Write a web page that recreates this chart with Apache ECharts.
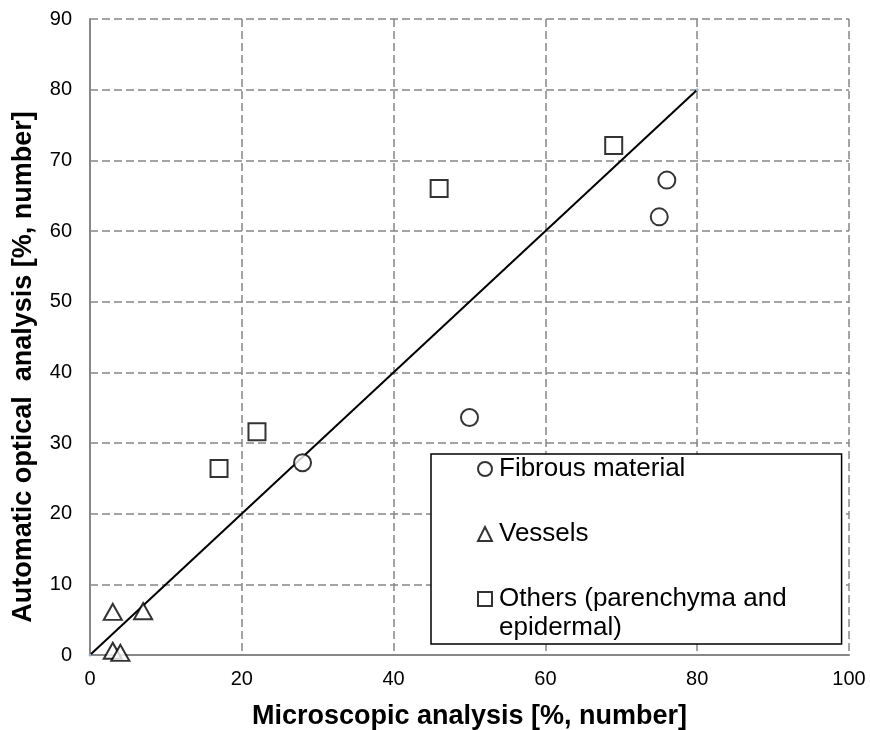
<!DOCTYPE html>
<html>
<head>
<meta charset="utf-8">
<script src="https://cdn.jsdelivr.net/npm/echarts@6/dist/echarts.min.js"></script>
<style>
  html, body { margin: 0; padding: 0; background: #fff; }
  #chart { width: 870px; height: 730px; }
</style>
</head>
<body>
<div id="chart"></div>
<script>
// data: [microscopic, automatic optical]
const fibrous = [[28, 27.2], [50, 33.6], [75, 62.0], [76, 67.2]]
const vessels = [[3, 6.1], [7, 6.2], [3, 0.6], [4, 0.3]]
const others = [[17, 26.4], [22, 31.6], [46, 66.0], [69, 72.1]]
const refLine = [[0, 0], [80, 80]]
const seriesNames = ['Fibrous material', 'Vessels', 'Others (parenchyma and']
// second line of the last legend entry (Excel wraps it under the text)
const legendWrap = 'epidermal)'

const chart = echarts.init(document.getElementById('chart'))
const font = 'Liberation Sans, Arial, sans-serif'
const markerStyle = {
  color: '#fff',
  borderColor: '#000',
  borderWidth: 2
}
const gridLine = { color: '#878787', type: [8, 4], width: 1.5 }

const option = {
  backgroundColor: '#fff',
  animation: false,
  grid: {
    left: 90,
    right: 21,
    top: 19,
    bottom: 75,
    outerBoundsMode: 'none'
  },
  legend: {
    orient: 'vertical',
    left: 431,
    top: 454,
    data: seriesNames,
    backgroundColor: '#fff',
    borderColor: '#000',
    borderWidth: 1.5,
    borderRadius: 0,
    padding: [0, 55, 30, 46],
    itemGap: 35,
    itemWidth: 14,
    itemHeight: 14,
    textStyle: {
      fontFamily: font,
      fontSize: 26,
      lineHeight: 30,
      color: '#000',
      padding: [0, 0, 0, 2]
    }
  },
  graphic: [
    {
      type: 'text',
      left: 499,
      top: 613,
      z: 200,
      style: {
        text: legendWrap,
        fontFamily: font,
        fontSize: 26,
        lineHeight: 30,
        fill: '#000'
      }
    }
  ],
  xAxis: {
    type: 'value',
    min: 0,
    max: 100,
    interval: 20,
    name: 'Microscopic analysis [%, number]',
    nameLocation: 'middle',
    nameGap: 48,
    nameTextStyle: {
      fontFamily: font,
      fontSize: 27,
      fontWeight: 'bold',
      color: '#000'
    },
    axisLine: {
      lineStyle: { color: '#888', width: 2 }
    },
    axisTick: { show: false },
    axisLabel: {
      fontFamily: font,
      fontSize: 20,
      color: '#000',
      margin: 14
    },
    splitLine: {
      show: true,
      lineStyle: gridLine
    }
  },
  yAxis: {
    type: 'value',
    min: 0,
    max: 90,
    interval: 10,
    name: 'Automatic optical  analysis [%, number]',
    nameLocation: 'middle',
    nameGap: 53,
    nameTextStyle: {
      fontFamily: font,
      fontSize: 27,
      fontWeight: 'bold',
      color: '#000',
      padding: [0, 60, 0, 0]
    },
    axisLine: {
      show: true,
      lineStyle: { color: '#888', width: 2 }
    },
    axisTick: { show: false },
    axisLabel: {
      fontFamily: font,
      fontSize: 20,
      color: '#000',
      margin: 18
    },
    splitLine: {
      show: true,
      lineStyle: gridLine
    }
  },
  series: [
    {
      name: 'line',
      type: 'line',
      data: refLine,
      symbol: 'circle',
      symbolSize: 3,
      itemStyle: { color: '#9fb0cc' },
      lineStyle: { color: '#000', width: 2 },
      z: 3
    },
    {
      name: seriesNames[0],
      type: 'scatter',
      data: fibrous,
      symbol: 'circle',
      symbolSize: 17,
      itemStyle: markerStyle,
      z: 4
    },
    {
      name: seriesNames[1],
      type: 'scatter',
      data: vessels,
      symbol: 'triangle',
      symbolSize: [18, 16],
      itemStyle: markerStyle,
      z: 4
    },
    {
      name: seriesNames[2],
      type: 'scatter',
      data: others,
      symbol: 'rect',
      symbolSize: 17,
      itemStyle: markerStyle,
      z: 4
    }
  ]
}
chart.setOption(option)
</script>
</body>
</html>
